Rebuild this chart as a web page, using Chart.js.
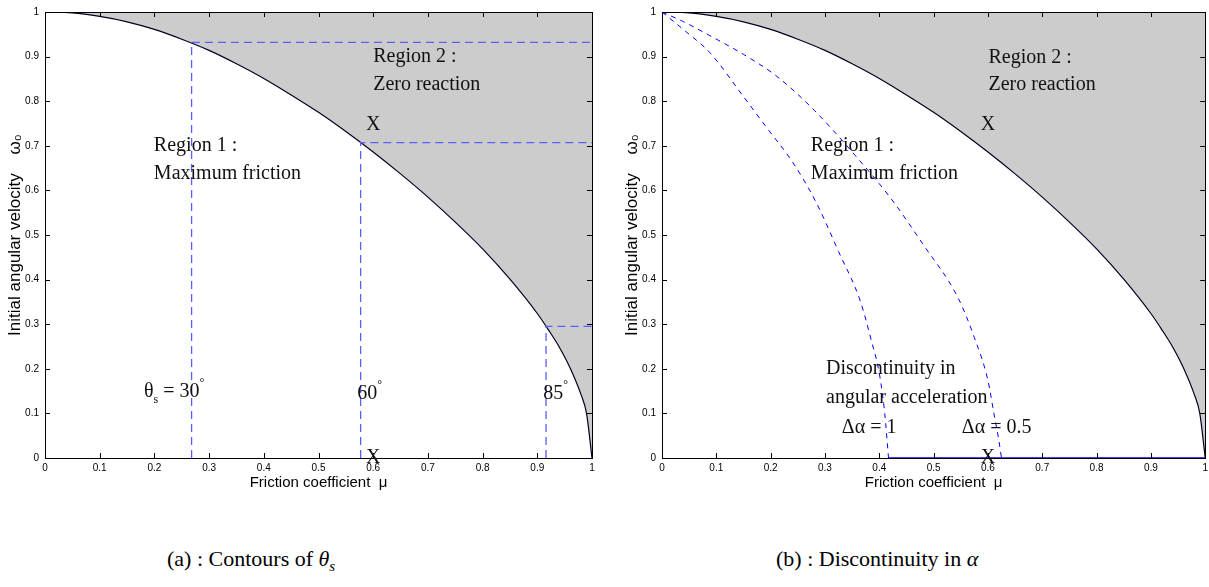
<!DOCTYPE html>
<html lang="en">
<head>
  <meta charset="UTF-8" />
  <title>Contours of theta_s / Discontinuity in alpha</title>
  <script src="https://cdn.jsdelivr.net/npm/chart.js"></script>
  <style>
    html, body { margin: 0; padding: 0; background: #fff; overflow: hidden; }
    body { width: 1209px; height: 587px; position: relative; }
    canvas { position: absolute; top: 0; }
    #chartA { left: 0; }
    #chartB { left: 617px; }
    .caption {
      position: absolute; top: 548px; line-height: 1;
      font-family: 'Liberation Serif', 'DejaVu Serif', serif; font-size: 22px;
      color: #000; white-space: nowrap;
    }
    .caption sub { font-size: 15px; vertical-align: -5px; line-height: 0; }
  </style>
</head>
<body>
  <canvas id="chartA" width="600" height="493"></canvas>
  <canvas id="chartB" width="595" height="493"></canvas>

  <div class="caption" style="left:167px">(a) : Contours of <i>θ</i><sub><i>s</i></sub></div>
  <div class="caption" style="left:776px">(b) : Discontinuity in <i>α</i></div>

  <script>
    // values
    const tickVals   = [0, 0.1, 0.2, 0.3, 0.4, 0.5, 0.6, 0.7, 0.8, 0.9, 1];
    const tickLabels = ['0', '0.1', '0.2', '0.3', '0.4', '0.5', '0.6', '0.7', '0.8', '0.9', '1'];

    // region 1 / region 2 boundary (same on both panels)
    const boundMu    = [0, 0.05, 0.1, 0.15, 0.2, 0.25, 0.3, 0.35, 0.4, 0.45, 0.5, 0.55, 0.6, 0.65, 0.7, 0.75, 0.8, 0.85, 0.9, 0.92, 0.94, 0.96, 0.98, 0.99, 1];
    const boundOmega = [1, 0.998, 0.990, 0.978, 0.961, 0.939, 0.914, 0.884, 0.851, 0.814, 0.775, 0.732, 0.686, 0.637, 0.585, 0.529, 0.469, 0.401, 0.324, 0.288, 0.249, 0.202, 0.142, 0.100, 0];

    // (a) theta_s contours: corner point of each dashed L
    const contourMu    = [0.268, 0.577, 0.916];
    const contourOmega = [0.932, 0.707, 0.295];

    // (b) discontinuity curves, down to where they meet the mu axis
    const jump1Mu     = [0, 0.045, 0.088, 0.149, 0.19, 0.24, 0.283, 0.325, 0.365, 0.385, 0.40, 0.41, 0.417];
    const jump1Omega  = [1, 0.955, 0.909, 0.812, 0.745, 0.664, 0.575, 0.463, 0.352, 0.265, 0.19, 0.10, 0];
    const jump05Mu    = [0, 0.04, 0.088, 0.15, 0.21, 0.28, 0.358, 0.422, 0.48, 0.545, 0.575, 0.60, 0.611, 0.62, 0.625];
    const jump05Omega = [1, 0.978, 0.947, 0.905, 0.857, 0.78, 0.675, 0.581, 0.48, 0.359, 0.27, 0.174, 0.10, 0.04, 0];
    // both stay at zero up to mu = 1
    const tailMu    = [0.417, 1];
    const tailOmega = [0, 0];

    const pts = (xs, ys) => xs.map((x, i) => ({ x, y: ys[i] }));

    const serif = "'Liberation Serif', 'DejaVu Serif', serif";
    const sans = "'Liberation Sans', Arial, sans-serif";

    function boundaryDataset() {
      return {
        data: pts(boundMu, boundOmega),
        borderColor: '#000022', borderWidth: 1.2,
        backgroundColor: '#cccccc', fill: 'end',
        pointRadius: 0, cubicInterpolationMode: 'monotone', order: 5
      };
    }

    // box + inward ticks like the original figure
    const frame = {
      id: 'frame',
      afterDatasetsDraw(chart) {
        const { ctx, chartArea: a, scales: { x, y } } = chart;
        const r = v => Math.round(v) + 0.5;
        ctx.save();
        ctx.strokeStyle = '#000';
        ctx.lineWidth = 1;
        ctx.beginPath();
        ctx.rect(r(a.left), r(a.top), Math.round(a.right - a.left), Math.round(a.bottom - a.top));
        tickVals.forEach(v => {
          const px = r(x.getPixelForValue(v));
          ctx.moveTo(px, a.bottom); ctx.lineTo(px, a.bottom - 5);
          ctx.moveTo(px, a.top); ctx.lineTo(px, a.top + 5);
          const py = r(y.getPixelForValue(v));
          ctx.moveTo(a.left, py); ctx.lineTo(a.left + 5, py);
          ctx.moveTo(a.right, py); ctx.lineTo(a.right - 5, py);
        });
        ctx.stroke();
        ctx.restore();
      }
    };

    // text with sub/superscripts
    function drawRich(ctx, x, y, parts, size, align) {
      const fontFor = k => (k ? Math.round(size * 0.62) : size) + 'px ' + serif;
      let w = 0;
      parts.forEach(([t, k]) => { ctx.font = fontFor(k); w += ctx.measureText(t).width; });
      let cx = align === 'center' ? x - w / 2 : x;
      parts.forEach(([t, k]) => {
        ctx.font = fontFor(k);
        const dy = k === 'sub' ? size * 0.38 : k === 'sup' ? -size * 0.45 : 0;
        ctx.fillText(t, cx, y + dy);
        cx += ctx.measureText(t).width;
      });
    }

    const notesPlugin = {
      id: 'notes',
      afterDatasetsDraw(chart, args, opts) {
        const { ctx, scales: { x, y } } = chart;
        ctx.save();
        ctx.fillStyle = '#111';
        ctx.textAlign = 'left';
        ctx.textBaseline = 'middle';
        (opts.items || []).forEach(n => {
          drawRich(ctx, x.getPixelForValue(n.mu), y.getPixelForValue(n.om), n.parts, n.size || 20, n.align);
        });
        ctx.restore();
      }
    };

    function makeChart(id, datasets, notes, padRight) {
      return new Chart(document.getElementById(id), {
        type: 'line',
        data: { datasets },
        options: {
          responsive: false,
          animation: false,
          events: [],
          layout: { padding: { top: 9, right: padRight, left: 0, bottom: 0 } },
          plugins: {
            legend: { display: false },
            tooltip: { enabled: false },
            notes: { items: notes }
          },
          scales: {
            x: {
              type: 'linear', min: 0, max: 1,
              afterBuildTicks: s => { s.ticks = tickVals.map(v => ({ value: v })); },
              afterFit: s => { s.height = 35; },
              grid: { display: false, drawTicks: false },
              border: { display: true, color: '#000', width: 1 },
              ticks: {
                padding: 4, color: '#000', autoSkip: false, maxRotation: 0,
                font: { family: sans, size: 10 },
                callback: (v, i) => tickLabels[i]
              },
              title: {
                display: true, text: 'Friction coefficient  μ', color: '#000',
                font: { family: sans, size: 15 }, padding: { top: 0, bottom: 1 }
              }
            },
            y: {
              type: 'linear', min: 0, max: 1,
              afterBuildTicks: s => { s.ticks = tickVals.map(v => ({ value: v })); },
              afterFit: s => { s.width = 45; },
              grid: { display: false, drawTicks: false },
              border: { display: true, color: '#000', width: 1 },
              ticks: {
                padding: 6, color: '#000', autoSkip: false,
                font: { family: sans, size: 10 },
                callback: (v, i) => tickLabels[i]
              },
              title: {
                display: true, text: 'Initial angular velocity    ω₀', color: '#000',
                font: { family: sans, size: 17 }, padding: { top: 5, bottom: 0 }
              }
            }
          }
        },
        plugins: [frame, notesPlugin]
      });
    }

    // (a) contours of theta_s
    const contourSets = contourMu.map((m, i) => ({
      data: [{ x: m, y: 0 }, { x: m, y: contourOmega[i] }, { x: 1, y: contourOmega[i] }],
      borderColor: '#5c5cff', borderWidth: 1.3, borderDash: [8, 5],
      fill: false, pointRadius: 0, tension: 0, order: 1
    }));

    makeChart('chartA', [boundaryDataset(), ...contourSets], [
      { mu: 0.60, om: 0.900, parts: [['Region 2 :']] },
      { mu: 0.60, om: 0.837, parts: [['Zero reaction']] },
      { mu: 0.60, om: 0.748, parts: [['X']], align: 'center' },
      { mu: 0.199, om: 0.699, parts: [['Region 1 :']] },
      { mu: 0.199, om: 0.637, parts: [['Maximum friction']] },
      { mu: 0.181, om: 0.148, parts: [['θ'], ['s', 'sub'], [' = 30'], ['°', 'sup']] },
      { mu: 0.571, om: 0.143, parts: [['60'], ['°', 'sup']] },
      { mu: 0.911, om: 0.143, parts: [['85'], ['°', 'sup']] },
      { mu: 0.60, om: 0.0, parts: [['X']], align: 'center' }
    ], 8);

    // (b) discontinuity in alpha
    const jumpStyle = {
      borderColor: '#0000ff', borderWidth: 1, borderDash: [5, 5],
      fill: false, pointRadius: 0, cubicInterpolationMode: 'monotone', order: 1
    };

    makeChart('chartB', [
      boundaryDataset(),
      { ...jumpStyle, data: pts(jump1Mu, jump1Omega) },
      { ...jumpStyle, data: pts(jump05Mu, jump05Omega) },
      { ...jumpStyle, borderDash: [], borderWidth: 1.3, data: pts(tailMu, tailOmega) }
    ], [
      { mu: 0.601, om: 0.897, parts: [['Region 2 :']] },
      { mu: 0.601, om: 0.837, parts: [['Zero reaction']] },
      { mu: 0.60, om: 0.748, parts: [['X']], align: 'center' },
      { mu: 0.274, om: 0.699, parts: [['Region 1 :']] },
      { mu: 0.274, om: 0.637, parts: [['Maximum friction']] },
      { mu: 0.302, om: 0.200, parts: [['Discontinuity in']] },
      { mu: 0.302, om: 0.136, parts: [['angular acceleration']] },
      { mu: 0.331, om: 0.067, parts: [['Δα = 1']] },
      { mu: 0.552, om: 0.067, parts: [['Δα = 0.5']] },
      { mu: 0.60, om: 0.0, parts: [['X']], align: 'center' }
    ], 3);
  </script>
</body>
</html>
